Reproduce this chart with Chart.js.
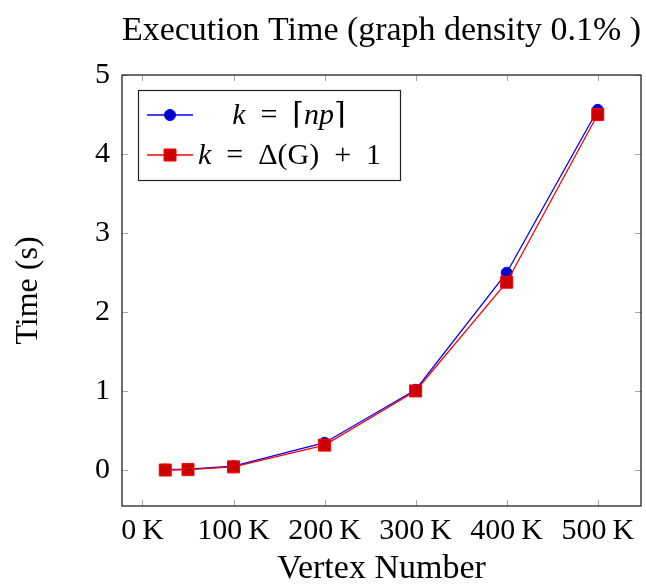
<!DOCTYPE html>
<html>
<head>
<meta charset="utf-8">
<script src="https://cdn.jsdelivr.net/npm/chart.js@4"></script>
<style>
  body { margin: 0; background: #fff; }
  #wrap { width: 646px; height: 584px; }
</style>
</head>
<body>
<div id="wrap"><canvas id="chart" width="646" height="584"></canvas></div>
<script>
const vertexCounts = [25000, 50000, 100000, 200000, 300000, 400000, 500000];
const timeCeilNp = [0.01, 0.015, 0.055, 0.35, 1.02, 2.5, 4.56];
const timeMaxDegree = [0.005, 0.01, 0.045, 0.32, 1.005, 2.38, 4.5];
const xTickValues = [0, 100000, 200000, 300000, 400000, 500000];
const xTickLabels = ['0\u2009K', '100\u2009K', '200\u2009K', '300\u2009K', '400\u2009K', '500\u2009K'];
const yTickValues = [0, 1, 2, 3, 4, 5];

const SERIF = '"Liberation Serif", "DejaVu Serif", serif';

const ctx = document.getElementById('chart').getContext('2d');

// pgfplots-like frame with inward ticks on all four sides, plus the boxed legend
const framePlugin = {
  id: 'frame',
  afterDatasetsDraw(chart) {
    const { ctx, chartArea: a, scales } = chart;
    ctx.save();
    ctx.strokeStyle = '#a8a8a8';
    ctx.lineWidth = 1;
    ctx.beginPath();
    xTickValues.forEach(v => {
      const px = Math.round(scales.x.getPixelForValue(v)) + 0.5;
      ctx.moveTo(px, a.bottom); ctx.lineTo(px, a.bottom - 6);
      ctx.moveTo(px, a.top); ctx.lineTo(px, a.top + 6);
    });
    yTickValues.forEach(v => {
      const py = Math.round(scales.y.getPixelForValue(v)) + 0.5;
      ctx.moveTo(a.left, py); ctx.lineTo(a.left + 6, py);
      ctx.moveTo(a.right, py); ctx.lineTo(a.right - 6, py);
    });
    ctx.stroke();
    ctx.strokeStyle = '#222';
    ctx.lineWidth = 1.3;
    ctx.strokeRect(a.left, a.top, a.right - a.left, a.bottom - a.top);
    ctx.restore();
  },
  afterDraw(chart) {
    const c = chart.ctx;
    const box = { l: 138, t: 90, r: 400, b: 180 };
    c.save();
    c.fillStyle = '#fff';
    c.fillRect(box.l, box.t, box.r - box.l, box.b - box.t);
    c.strokeStyle = '#222';
    c.lineWidth = 1.2;
    c.strokeRect(box.l + 0.5, box.t + 0.5, box.r - box.l, box.b - box.t);

    const rows = [115, 155];
    const sp = '\u2002';
    const texts = [
      [['k', true], [sp + '=' + sp + '\u2308', false], ['np', true], ['\u2309', false]],
      [['k', true], [sp + '=' + sp + '\u0394(G)' + sp + '+' + sp + '1', false]]
    ];
    const centers = [289, null];
    chart.data.datasets.forEach(ds => {
      const y = rows[ds.legendRow];
      c.strokeStyle = ds.borderColor;
      c.lineWidth = 1.3;
      c.beginPath(); c.moveTo(147, y); c.lineTo(193, y); c.stroke();
      c.fillStyle = ds.backgroundColor;
      c.strokeStyle = ds.borderColor;
      c.lineWidth = 1;
      c.beginPath();
      if (ds.pointStyle === 'rect') {
        c.rect(164, y - 6, 12, 12);
      } else {
        c.arc(170, y, 5.5, 0, Math.PI * 2);
      }
      c.fill(); c.stroke();

      const parts = texts[ds.legendRow];
      c.fillStyle = '#000';
      c.textBaseline = 'middle';
      const fonts = parts.map(p => (p[1] ? 'italic ' : '') + '30px ' + SERIF);
      let w = 0;
      parts.forEach((p, j) => { c.font = fonts[j]; w += c.measureText(p[0]).width; });
      let x = centers[ds.legendRow] != null ? centers[ds.legendRow] - w / 2 : 198;
      parts.forEach((p, j) => {
        c.font = fonts[j];
        c.fillText(p[0], x, y + 1);
        x += c.measureText(p[0]).width;
      });
    });
    c.restore();
  }
};

new Chart(ctx, {
  type: 'line',
  data: {
    datasets: [
      {
        label: 'k = \u2308np\u2309',
        data: vertexCounts.map((v, i) => ({ x: v, y: timeCeilNp[i] })),
        borderColor: '#0000ff',
        backgroundColor: '#0000cc',
        borderWidth: 1.3,
        pointStyle: 'circle',
        pointRadius: 5.5,
        pointBorderWidth: 1,
        order: 1,
        legendRow: 0
      },
      {
        label: 'k = \u0394(G) + 1',
        data: vertexCounts.map((v, i) => ({ x: v, y: timeMaxDegree[i] })),
        borderColor: '#ff0000',
        backgroundColor: '#cc0000',
        borderWidth: 1.3,
        pointStyle: 'rect',
        pointRadius: 8.5,
        pointBorderWidth: 1,
        order: 0,
        legendRow: 1
      }
    ]
  },
  options: {
    responsive: false,
    animation: false,
    devicePixelRatio: 1,
    layout: { autoPadding: false, padding: { left: 0, right: 5, top: 0, bottom: 0 } },
    plugins: {
      legend: { display: false },
      tooltip: { enabled: false },
      title: {
        display: true,
        fullSize: false,
        text: 'Execution Time (graph density 0.1% )',
        color: '#000',
        font: { family: SERIF, size: 34, weight: 'normal', lineHeight: 1.2 },
        padding: { top: 11, bottom: 23.2 }
      }
    },
    scales: {
      x: {
        type: 'linear',
        min: -22500,
        max: 547500,
        grid: { display: false, drawTicks: false },
        border: { display: false },
        afterBuildTicks: s => { s.ticks = xTickValues.map(v => ({ value: v })); },
        afterFit: s => { s.height = 78; },
        ticks: {
          padding: 7,
          color: '#000',
          font: { family: SERIF, size: 30 },
          maxRotation: 0,
          callback: v => xTickLabels[xTickValues.indexOf(v)]
        },
        title: {
          display: true,
          text: 'Vertex Number',
          color: '#000',
          font: { family: SERIF, size: 34, lineHeight: 0.85 },
          padding: { top: 0, bottom: 0 }
        }
      },
      y: {
        type: 'linear',
        min: -0.45,
        max: 5.0,
        grid: { display: false, drawTicks: false },
        border: { display: false },
        afterBuildTicks: s => { s.ticks = yTickValues.map(v => ({ value: v })); },
        afterFit: s => { s.width = 122; },
        ticks: {
          padding: 12,
          color: '#000',
          font: { family: SERIF, size: 30 },
          callback: v => String(v)
        },
        title: {
          display: true,
          text: 'Time (s)',
          color: '#000',
          font: { family: SERIF, size: 32, lineHeight: 1.0 },
          padding: { top: 13, bottom: 0 }
        }
      }
    }
  },
  plugins: [framePlugin]
});
</script>
</body>
</html>
